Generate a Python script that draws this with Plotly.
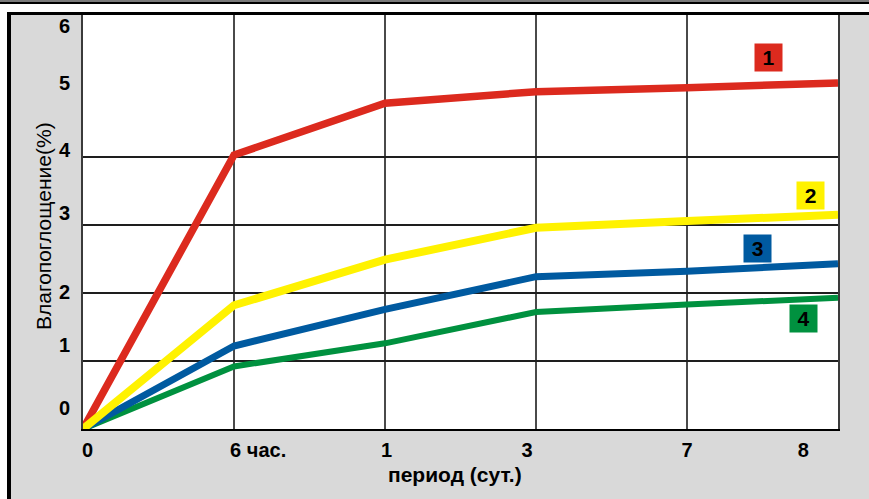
import plotly.graph_objects as go

# ---- data ----
periods = ["0", "6 час.", "1", "3", "7", "8"]
series_names = ["1", "2", "3", "4"]
s1 = [0, 4.03, 4.79, 4.96, 5.02, 5.09]   # red
s2 = [0, 1.82, 2.49, 2.96, 3.06, 3.15]   # yellow
s3 = [0, 1.22, 1.76, 2.24, 2.32, 2.43]   # blue
s4 = [0, 0.92, 1.26, 1.72, 1.83, 1.93]   # green

y_tick_text = ["0", "1", "2", "3", "4", "5", "6"]
x_tick_text = ["0", "6 час.", "1", "3", "7", "8"]

# ---- layout helpers (label placement, as drawn in the original) ----
y_label_pos = [0.31, 1.24, 2.01, 3.18, 4.10, 5.09, 5.93]
x_label_pos = [0.03, 1.16, 2.01, 2.94, 4.0, 4.77]
box_pos = [(4.54, 5.47), (4.82, 3.43), (4.47, 2.65), (4.77, 1.62)]

colors = ["#dc2a1e", "#fff200", "#005aa0", "#00913f"]
widths = [7.5, 8, 7, 6]
FONT = "Arial, Liberation Sans, sans-serif"

xs = list(range(len(periods)))
data = [s1, s2, s3, s4]

fig = go.Figure()
for i in [3, 2, 0, 1]:
    fig.add_trace(go.Scatter(x=xs, y=data[i], mode="lines", name=series_names[i],
                             line=dict(color=colors[i], width=widths[i]),
                             showlegend=False, hoverinfo="skip"))
# empty trace to attach label axes
fig.add_trace(go.Scatter(x=[None], y=[None], xaxis="x2", yaxis="y2",
                         showlegend=False, hoverinfo="skip"))

W, H = 869, 499
L, R, T, B = 83, 838, 15, 429
yr = (B - T) / 68.0

fig.update_layout(
    width=W, height=H,
    margin=dict(l=L, r=W - R, t=T, b=H - B, pad=0),
    paper_bgcolor="#d9d9d9", plot_bgcolor="white",
    font=dict(family=FONT, color="black"),
    xaxis=dict(range=[0, 5], tickvals=[1, 2, 3, 4], showticklabels=False,
               showgrid=True, gridcolor="#4a4a4a", gridwidth=2,
               showline=True, linecolor="black", linewidth=2, zeroline=False,
               fixedrange=True),
    yaxis=dict(range=[0, yr], tickvals=[1, 2, 3, 4], showticklabels=False,
               showgrid=True, gridcolor="#1e1e1e", gridwidth=1.5,
               showline=True, linecolor="#3a3a3a", linewidth=2, mirror=True,
               zeroline=False, fixedrange=True),
    xaxis2=dict(range=[0, 5], overlaying="x", side="bottom", anchor="y2",
                tickvals=x_label_pos, ticktext=x_tick_text,
                tickfont=dict(size=20, family=FONT, color="black", weight="bold"),
                showgrid=False, showline=False, zeroline=False, ticks="",
                ticklabelstandoff=7, fixedrange=True),
    yaxis2=dict(range=[0, yr], overlaying="y", side="left", anchor="x2",
                tickvals=y_label_pos, ticktext=y_tick_text,
                tickfont=dict(size=20, family=FONT, color="black", weight="bold"),
                showgrid=False, showline=False, zeroline=False, ticks="",
                ticklabelstandoff=12, fixedrange=True),
)

def px_x(p):
    return (p - L) / (R - L)

def px_y(p):
    return (B - p) / (B - T)

shapes = [
    # white margins outside the grey panel
    dict(type="rect", xref="paper", yref="paper", layer="below",
         x0=px_x(-5), x1=px_x(7), y0=px_y(510), y1=px_y(-5),
         fillcolor="white", line=dict(width=0)),
    dict(type="rect", xref="paper", yref="paper", layer="below",
         x0=px_x(-5), x1=px_x(880), y0=px_y(12), y1=px_y(-5),
         fillcolor="white", line=dict(width=0)),
    # black frame of the panel
    dict(type="line", xref="paper", yref="paper", x0=px_x(7), x1=px_x(880),
         y0=px_y(13.5), y1=px_y(13.5), line=dict(color="black", width=3)),
    dict(type="line", xref="paper", yref="paper", x0=px_x(9), x1=px_x(9),
         y0=px_y(12), y1=px_y(510), line=dict(color="black", width=4)),
    # stripe at the very top
    dict(type="line", xref="paper", yref="paper", x0=px_x(0), x1=px_x(869),
         y0=px_y(1), y1=px_y(1), line=dict(color="#7a7a7a", width=2)),
    dict(type="line", xref="paper", yref="paper", x0=px_x(0), x1=px_x(869),
         y0=px_y(3), y1=px_y(3), line=dict(color="black", width=2)),
]
fig.update_layout(shapes=shapes)

annotations = []
for name, (bx, by), c in zip(series_names, box_pos, colors):
    annotations.append(dict(x=bx, y=by, xref="x", yref="y", text="<b>%s</b>" % name,
                            showarrow=False, bgcolor=c, width=27, height=27,
                            borderpad=0, valign="middle",
                            font=dict(size=21, family=FONT, color="black")))
annotations.append(dict(x=px_x(455), y=px_y(474), xref="paper", yref="paper",
                        text="<b>период (сут.)</b>", showarrow=False,
                        xanchor="center", yanchor="middle",
                        font=dict(size=21, family=FONT, color="black")))
annotations.append(dict(x=px_x(43), y=px_y(226), xref="paper", yref="paper",
                        text="Влагопоглощение(%)", showarrow=False, textangle=-90,
                        xanchor="center", yanchor="middle",
                        font=dict(size=21, family=FONT, color="black")))
fig.update_layout(annotations=annotations)

fig.write_html("out.html", config={"displayModeBar": False},
               post_script="document.body.style.margin='0';document.body.style.overflow='hidden';")
